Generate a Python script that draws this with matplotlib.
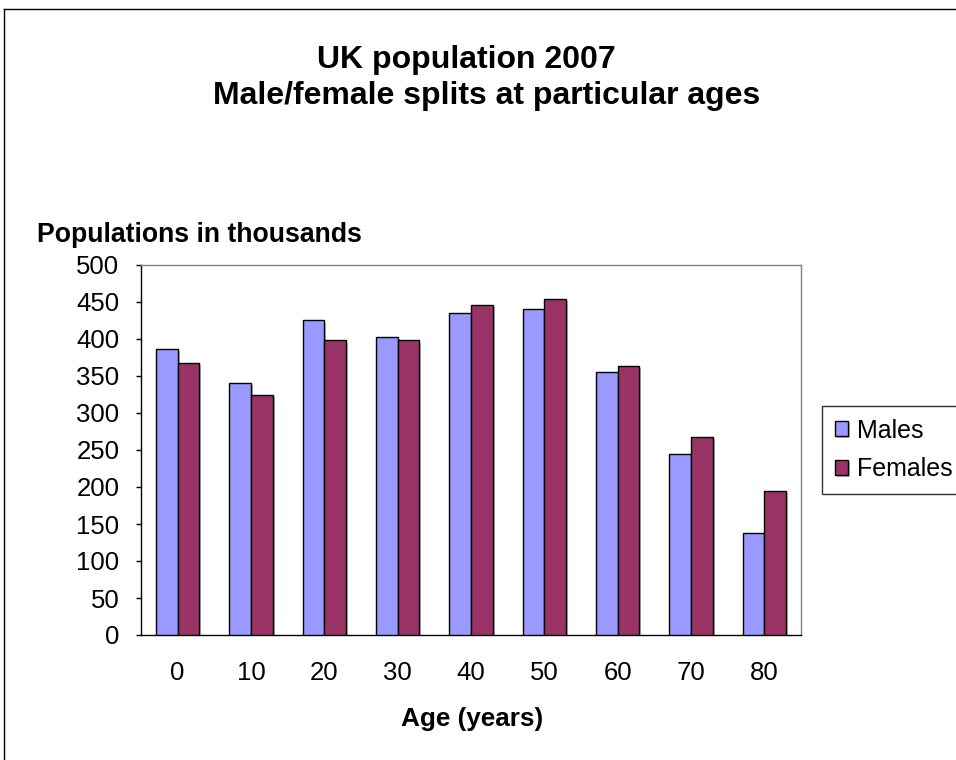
import matplotlib.pyplot as plt
import matplotlib.patheffects as pe
from matplotlib.lines import Line2D
import numpy as np

plt.rcParams['font.family'] = ['Liberation Sans', 'DejaVu Sans']

ages = ['0', '10', '20', '30', '40', '50', '60', '70', '80']
males = [386, 341, 425, 403, 435, 441, 355, 244, 138]
females = [368, 325, 398, 398, 446, 454, 363, 268, 195]

male_color = '#9999FF'
female_color = '#993366'

fig = plt.figure(figsize=(9.56, 7.6), dpi=100)
W, H = 956, 760
ax = fig.add_axes([141 / W, (H - 635) / H, 660 / W, 370 / H])

x = np.arange(len(ages))
bw = 0.296
shadow = [pe.SimplePatchShadow(offset=(1.5, -1.5), shadow_rgbFace='#888888', alpha=0.6), pe.Normal()]
b1 = ax.bar(x - bw / 2, males, bw, color=male_color, edgecolor='black', linewidth=1.0,
            label='Males', zorder=3)
b2 = ax.bar(x + bw / 2, females, bw, color=female_color, edgecolor='black', linewidth=1.0,
            label='Females', zorder=3)
for p in list(b1) + list(b2):
    p.set_path_effects(shadow)

ax.set_xlim(-0.5, len(ages) - 0.5)
ax.set_ylim(0, 500)
ax.set_yticks(range(0, 501, 50))
ax.set_xticks(x)
ax.set_xticklabels(ages)
ax.tick_params(axis='y', direction='out', length=3.6, width=1, pad=12, labelsize=18.5)
ax.tick_params(axis='x', length=0, pad=19, labelsize=18.5)

for s in ['left', 'bottom']:
    ax.spines[s].set_color('black')
    ax.spines[s].set_linewidth(1.0)
for s in ['top', 'right']:
    ax.spines[s].set_color('#808080')
    ax.spines[s].set_linewidth(1.0)

fig.text(466 / W, 1 - 60 / H, 'UK population 2007', ha='center', va='center',
         fontsize=23, fontweight='bold')
fig.text(487 / W, 1 - 96 / H, 'Male/female splits at particular ages', ha='center', va='center',
         fontsize=23, fontweight='bold')
fig.text(37 / W, 1 - 235 / H, 'Populations in thousands', ha='left', va='center',
         fontsize=19.2, fontweight='bold')
fig.text(472 / W, 1 - 719 / H, 'Age (years)', ha='center', va='center',
         fontsize=18.8, fontweight='bold')

leg = fig.legend(handles=[b1, b2], loc='upper left', bbox_to_anchor=(822 / W, 1 - 406 / H),
                 fontsize=18, frameon=True, fancybox=False, edgecolor='black',
                 handlelength=0.55, handleheight=0.55, handletextpad=0.35,
                 borderpad=0.5, labelspacing=0.6, borderaxespad=0)
leg.get_frame().set_linewidth(1.0)

# outer chart border (top and left edges visible)
fig.add_artist(Line2D([4 / W, 1], [1 - 9 / H, 1 - 9 / H], color='black', linewidth=1.0))
fig.add_artist(Line2D([4 / W, 4 / W], [0, 1 - 9 / H], color='black', linewidth=1.0))

fig.savefig('out.png', dpi=100)
